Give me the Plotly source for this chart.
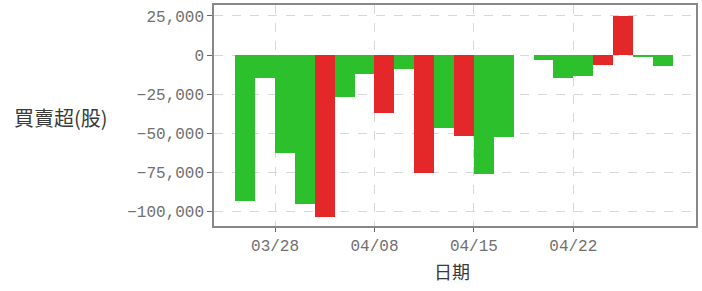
import plotly.graph_objects as go

dates = ["03/26", "03/27", "03/28", "03/29", "04/01", "04/02", "04/03", "04/08",
         "04/09", "04/10", "04/11", "04/12", "04/15", "04/16", "04/17", "04/18",
         "04/19", "04/22", "04/23", "04/24", "04/25", "04/26"]
net = [-93000, -14300, -62200, -95100, -103200, -27000, -12000, -36700,
       -9000, -75300, -46200, -51300, -75900, -52100, None, -3200,
       -14300, -13100, -6300, 24700, -600, -7200]
colors_flag = ["g", "g", "g", "g", "r", "g", "g", "r", "g", "r", "g", "r",
               "g", "g", "g", "g", "g", "g", "r", "r", "g", "g"]
tick_dates = ["03/28", "04/08", "04/15", "04/22"]
y_ticks = [25000, 0, -25000, -50000, -75000, -100000]

GREEN = "#2cc12c"
RED = "#e4282a"
idx = list(range(len(dates)))
cols = [GREEN if c == "g" else RED for c in colors_flag]

fig = go.Figure()
fig.add_trace(go.Bar(
    x=idx, y=net, width=1.0,
    marker=dict(color=cols, line=dict(width=0)),
    hovertext=dates,
))

tickvals = [dates.index(d) - 0.5 for d in tick_dates]

fig.update_layout(
    width=702, height=291,
    margin=dict(l=214, r=6, t=5, b=65, autoexpand=False),
    plot_bgcolor="white", paper_bgcolor="white",
    showlegend=False, bargap=0,
    font=dict(family="Liberation Mono", size=16, color="#707070"),
)
fig.update_xaxes(
    range=[-1.57, 22.67], automargin=False,
    tickvals=tickvals, ticktext=tick_dates,
    showgrid=True, gridcolor="#d8d8d8", griddash="dash", gridwidth=1,
    showline=True, linecolor="#888888", linewidth=1.5, mirror=True,
    ticks="outside", ticklen=4, tickcolor="#666666",
    zeroline=False,
)
fig.update_yaxes(
    range=[-109000, 32000], automargin=False,
    tickvals=y_ticks, tickformat=",",
    showgrid=True, gridcolor="#d8d8d8", griddash="dash", gridwidth=1,
    showline=True, linecolor="#888888", linewidth=1.5, mirror=True,
    ticks="outside", ticklen=5, tickcolor="#666666",
    zeroline=False,
)
fig.add_annotation(
    text="買賣超(股)", xref="paper", yref="paper", x=-(214-12)/482, y=(226-117)/221,
    xanchor="left", yanchor="middle", showarrow=False,
    font=dict(family="Noto Sans CJK TC", size=20, color="#3a3a3a"),
)
fig.add_annotation(
    text="日期", xref="paper", yref="paper", x=(452-214)/482, y=-(271-226)/221,
    xanchor="center", yanchor="middle", showarrow=False,
    font=dict(family="Noto Sans CJK TC", size=18, color="#3a3a3a"),
)
fig.write_html("out.html", config={"displayModeBar": False},
               post_script="document.body.style.margin='0';document.body.style.overflow='hidden';")
